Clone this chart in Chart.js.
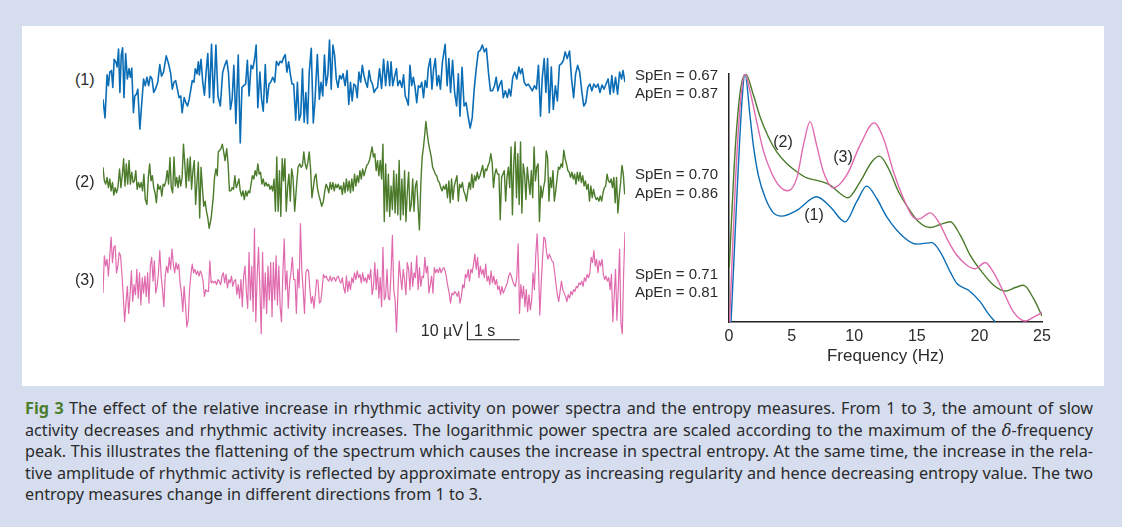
<!DOCTYPE html>
<html>
<head>
<meta charset="utf-8">
<script src="https://cdn.jsdelivr.net/npm/chart.js@4.4.1/dist/chart.umd.min.js"></script>
<style>
  html, body { margin: 0; padding: 0; }
  body { width: 1122px; height: 527px; background: #d5ddef; position: relative; overflow: hidden;
         font-family: "Liberation Sans", Arial, sans-serif; color: #2b2b2b; }
  #panel { position: absolute; left: 22px; top: 26px; width: 1082px; height: 360px; background: #fff; }
  canvas { position: absolute; }
  .lbl { position: absolute; font-size: 16px; line-height: 1; white-space: nowrap; transform: translateY(-50%); }
  .en { font-size: 15px; }
  .caption { position: absolute; left: 25px; top: 398px; width: 1068px; font-family: "Noto Sans", "Open Sans", sans-serif;
             font-size: 16.2px; line-height: 21.5px; color: #2b2b2b; }
  .caption div { white-space: nowrap; text-align: justify; text-align-last: justify; }
  .caption div.last { text-align: left; text-align-last: left; }
  .fig { color: #4b7d2c; font-weight: bold; margin-right: 5px; }
  .delta { font-family: "DejaVu Serif", serif; font-style: italic; }
</style>
</head>
<body>
<div id="panel"></div>

<canvas id="eeg1"></canvas>
<canvas id="eeg2"></canvas>
<canvas id="eeg3"></canvas>
<canvas id="spectra" width="380" height="310" style="left:700px;top:60px;width:380px;height:310px"></canvas>

<div class="lbl" style="left:75px;top:80px">(1)</div>
<div class="lbl" style="left:75px;top:182px">(2)</div>
<div class="lbl" style="left:75px;top:280px">(3)</div>

<div class="lbl en" style="left:635px;top:74px">SpEn = 0.67</div>
<div class="lbl en" style="left:635px;top:92px">ApEn = 0.87</div>
<div class="lbl en" style="left:635px;top:173px">SpEn = 0.70</div>
<div class="lbl en" style="left:635px;top:192px">ApEn = 0.86</div>
<div class="lbl en" style="left:635px;top:273px">SpEn = 0.71</div>
<div class="lbl en" style="left:635px;top:291px">ApEn = 0.81</div>

<div class="lbl" style="left:463px;top:331px;transform:translate(-100%,-50%)">10 µV</div>
<div class="lbl" style="left:474px;top:331px">1 s</div>

<div class="lbl" style="left:783px;top:142px;transform:translate(-50%,-50%)">(2)</div>
<div class="lbl" style="left:843px;top:157px;transform:translate(-50%,-50%)">(3)</div>
<div class="lbl" style="left:814px;top:215px;transform:translate(-50%,-50%)">(1)</div>

<div class="caption">
  <div><span class="fig">Fig 3</span>The effect of the relative increase in rhythmic activity on power spectra and the entropy measures. From 1 to 3, the amount of slow</div>
  <div>activity decreases and rhythmic activity increases. The logarithmic power spectra are scaled according to the maximum of the <span class="delta">δ</span>-frequency</div>
  <div>peak. This illustrates the flattening of the spectrum which causes the increase in spectral entropy. At the same time, the increase in the rela-</div>
  <div>tive amplitude of rhythmic activity is reflected by approximate entropy as increasing regularity and hence decreasing entropy value. The two</div>
  <div class="last">entropy measures change in different directions from 1 to 3.</div>
</div>

<script>
// EEG epochs: [sample index, amplitude in µV], 154 samples per second, 10 s each
const FS = 154;
const EPOCH_SAMPLES = 1544;

const trace1 = [[0,-7.4],[6,-17.6],[12,5.9],[16,0],[20,7.4],[25,8.3],[29,-0.9],[33,14.4],[38,13.0],[42,10.2],[46,20.0],[50,-3.7],[54,16.7],[58,20.7],[62,-6.5],[67,17.6],[72,3.7],[77,9.3],[81,4.6],[85,9.6],[90,-14.8],[94,-5.6],[99,-4.6],[103,-1.9],[109,-23.7],[114,-11.1],[120,3.7],[125,0],[130,4.6],[135,0],[140,5.2],[145,3.7],[150,-3.7],[155,-1.9],[162,1.9],[168,11.5],[173,5.2],[179,7.4],[187,16.3],[194,12.0],[200,7.0],[205,-1.9],[210,1.9],[215,2.8],[220,-1.9],[225,-6.5],[230,-5.6],[234,-14.8],[240,-6.5],[245,-9.3],[250,-11.1],[255,-7.4],[260,-1.9],[264,2.8],[269,1.9],[273,9.3],[278,6.5],[282,13.0],[285,5.9],[290,14.4],[295,1.9],[300,-5.2],[305,7.4],[310,17.6],[315,-6.5],[321,22.6],[327,-9.3],[334,22.2],[340,-5.6],[347,-11.1],[354,7.4],[360,11.1],[366,13.9],[371,7.4],[377,-13.0],[382,-7.4],[387,11.1],[393,-20.7],[400,16.7],[406,-31.3],[411,-0.9],[416,0],[422,0.9],[427,13.9],[432,-5.6],[438,11.1],[443,9.3],[448,13.9],[453,22.2],[458,-12.0],[464,7.4],[469,-7.4],[474,-13.9],[480,11.5],[485,-9.3],[491,0.9],[496,1.9],[502,4.6],[508,1.9],[513,13.3],[519,11.1],[524,13.3],[529,12.6],[534,15.2],[539,17.0],[544,7.4],[549,13.0],[554,6.5],[559,0.9],[564,0.9],[570,-18.9],[575,1.9],[580,-18.9],[585,-15.7],[590,9.3],[595,-20.0],[600,-3.7],[605,-20.7],[610,7.4],[616,20.4],[622,-20.4],[627,-8.3],[634,17.0],[640,-7.4],[645,1.9],[650,-5.6],[655,16.7],[660,0],[665,5.6],[670,25.0],[675,-1.9],[680,22.2],[685,16.7],[690,3.7],[695,-0.9],[700,5.6],[705,3.7],[710,6.5],[716,0],[722,8.3],[727,-10.2],[732,1.9],[737,-8.3],[742,0.9],[747,0],[752,-6.5],[757,7.4],[762,1.9],[767,11.1],[772,5.6],[777,1.9],[782,-0.9],[787,8.3],[792,2.8],[797,0.9],[802,-3.7],[807,-1.9],[812,-0.9],[818,9.3],[824,-1.5],[830,14.4],[836,0],[842,13.3],[848,0],[852,13.0],[857,0],[862,4.6],[868,9.3],[872,0],[878,2.8],[884,-0.9],[889,5.9],[894,-5.6],[898,-7.4],[903,-10.6],[908,11.1],[913,0],[918,4.6],[923,-0.9],[928,-9.3],[933,0],[938,-0.9],[943,1.9],[948,-6.5],[953,2.8],[958,-0.9],[962,9.3],[968,14.8],[973,-1.9],[978,9.3],[983,14.8],[988,0],[993,5.6],[998,-1.9],[1004,13.0],[1012,22.6],[1018,0],[1023,14.8],[1028,-3.7],[1034,13.9],[1040,-3.7],[1046,-11.1],[1051,6.5],[1056,-16.7],[1062,10.0],[1068,-11.1],[1074,-9.3],[1080,-16.7],[1086,-23.1],[1092,-17.6],[1098,-1.9],[1104,9.3],[1110,18.5],[1116,19.4],[1122,22.2],[1128,18.5],[1134,20.4],[1140,7.4],[1146,-2.8],[1152,-2.8],[1158,0],[1163,4.6],[1168,-2.8],[1174,0.9],[1179,2.8],[1184,-6.5],[1190,-2.8],[1196,-6.5],[1201,-1.9],[1206,-5.6],[1212,4.6],[1218,7.4],[1224,3.7],[1230,10.2],[1235,6.5],[1240,9.3],[1246,1.9],[1252,0],[1258,0.9],[1264,-0.9],[1270,-2.8],[1276,0],[1282,-1.9],[1288,11.1],[1294,-16.7],[1299,3.7],[1305,14.8],[1310,-3.7],[1315,14.8],[1320,-14.8],[1326,10.2],[1332,-13.0],[1338,0],[1344,-8.3],[1350,11.1],[1356,12.0],[1362,13.9],[1367,18.5],[1373,14.8],[1380,18.9],[1386,3.7],[1392,-6.5],[1398,6.5],[1404,11.1],[1410,7.4],[1416,-2.8],[1422,-11.1],[1428,-9.3],[1434,-0.9],[1440,0.9],[1446,-2.8],[1452,0.9],[1458,-0.9],[1464,0.9],[1470,-3.7],[1476,0.4],[1482,-1.9],[1488,0.9],[1494,3.7],[1500,-4.6],[1505,5.6],[1510,-3.7],[1516,4.6],[1522,-4.6],[1528,7.4],[1534,3.7],[1538,8.3],[1544,1.9]];

const trace2 = [[0,8.3],[4,0.9],[8,-0.9],[12,2.8],[16,-2.8],[20,1.9],[24,-4.6],[28,0],[32,-6.9],[36,-2.8],[40,-5.6],[44,-2.8],[49,7.4],[53,-2.8],[57,3.7],[61,13.0],[65,-1.9],[69,10.2],[73,-0.9],[77,12.0],[81,-0.9],[85,5.6],[89,0],[93,0.9],[97,6.5],[101,-3.7],[105,0],[109,-2.8],[113,0],[117,-4.6],[121,4.6],[125,-9.3],[130,-12.0],[134,2.8],[138,10.2],[142,0.9],[146,3.7],[150,-2.8],[154,-5.6],[158,-11.1],[162,-0.9],[166,-3.7],[170,-1.9],[174,-7.4],[178,-0.9],[182,-1.9],[186,0.9],[190,6.5],[194,-0.9],[198,13.5],[202,-2.8],[206,-5.6],[210,13.9],[214,-1.9],[218,2.8],[222,-2.8],[226,3.7],[230,-1.9],[234,2.8],[238,20.9],[242,10.2],[246,-2.8],[250,13.0],[254,0.9],[258,13.9],[262,-3.7],[266,6.5],[270,12.0],[274,-12.0],[278,0],[282,11.1],[286,-19.4],[290,8.3],[294,-2.8],[298,-13.0],[302,-10.2],[306,-15.7],[310,-19.4],[314,-25.0],[320,-19.4],[326,-8.3],[330,2.8],[334,7.4],[338,3.7],[341,16.7],[345,17.6],[349,18.5],[353,20.9],[357,16.7],[361,12.0],[366,18.5],[370,10.2],[374,-4.6],[378,-4.6],[382,-2.8],[386,-3.7],[390,3.7],[394,-2.8],[398,-0.9],[402,1.9],[406,-4.6],[410,-7.4],[414,-4.6],[418,-9.3],[422,-4.6],[426,-7.4],[430,-4.6],[434,-5.6],[438,-0.9],[442,3.7],[446,1.9],[450,6.5],[454,3.7],[458,10.2],[462,4.6],[466,5.6],[470,-0.9],[474,1.9],[478,-1.9],[482,0],[486,-1.9],[490,-0.9],[494,-3.7],[498,-1.9],[502,-4.6],[506,1.9],[510,-15.7],[514,13.9],[518,-15.7],[522,6.5],[526,-18.5],[530,13.0],[534,0.9],[538,13.0],[542,-15.7],[546,-2.8],[550,4.6],[554,-10.2],[558,7.4],[562,2.8],[567,-15.7],[572,-2.8],[577,8.3],[582,10.2],[586,8.3],[590,9.3],[594,16.7],[598,10.2],[602,7.4],[606,11.1],[610,16.7],[614,7.4],[618,-8.3],[622,-2.8],[626,2.8],[630,4.6],[634,-2.8],[638,-6.5],[642,-9.3],[647,-13.0],[652,-10.2],[656,-4.6],[660,-0.9],[664,-2.8],[668,-5.6],[672,0],[676,-3.7],[680,0],[684,-4.6],[688,-0.9],[692,-2.8],[696,-0.9],[700,-3.7],[704,-1.9],[708,-6.5],[712,0],[716,-5.6],[720,1.9],[724,-4.6],[728,0.9],[732,-5.6],[736,1.9],[740,-4.6],[744,4.6],[748,-1.9],[752,3.7],[756,0],[760,6.5],[764,1.9],[768,7.4],[772,3.7],[776,6.5],[780,9.3],[784,10.2],[788,12.0],[792,15.7],[796,19.4],[800,13.9],[804,15.7],[808,6.5],[812,12.0],[816,3.7],[820,12.0],[824,1.9],[828,20.9],[832,-21.3],[836,10.2],[840,-15.7],[844,4.6],[848,-18.5],[852,-1.9],[856,-14.8],[860,6.5],[864,-16.7],[868,4.6],[872,-17.6],[876,12.0],[880,-20.4],[884,1.9],[888,-17.6],[892,6.5],[896,-21.3],[900,-5.6],[904,5.6],[908,-15.7],[912,-12.0],[916,1.9],[920,-15.7],[924,-1.9],[928,0.9],[932,-13.0],[936,-25.9],[940,-0.9],[944,13.9],[948,19.4],[952,26.9],[955,33.3],[959,26.9],[963,21.3],[967,17.6],[971,13.9],[975,8.3],[979,6.5],[983,4.6],[987,3.7],[991,0.9],[995,0],[999,-2.8],[1003,-4.6],[1007,-1.9],[1011,-3.7],[1015,-0.9],[1019,-8.3],[1023,0.9],[1027,-11.1],[1031,1.9],[1035,-9.3],[1039,-1.9],[1043,0.9],[1047,3.7],[1051,-10.2],[1055,-0.9],[1059,-2.8],[1063,0],[1067,-4.6],[1071,-6.5],[1075,-10.2],[1079,-4.6],[1083,0],[1087,-3.7],[1091,4.6],[1095,-2.8],[1099,3.7],[1103,0.9],[1107,5.6],[1111,1.9],[1115,3.7],[1119,6.5],[1123,9.3],[1127,2.8],[1131,7.4],[1135,6.5],[1139,9.3],[1143,11.1],[1147,15.7],[1151,11.1],[1155,-2.8],[1159,4.6],[1163,7.4],[1167,4.6],[1171,4.6],[1175,-20.4],[1179,2.8],[1183,4.6],[1187,6.5],[1191,-10.2],[1195,2.8],[1199,8.3],[1203,-2.8],[1207,19.4],[1211,-17.6],[1215,10.2],[1219,22.2],[1223,-8.3],[1227,15.7],[1231,-12.0],[1235,22.2],[1239,-16.7],[1243,10.2],[1247,4.6],[1251,-9.3],[1255,8.3],[1259,0.9],[1263,-6.5],[1267,6.5],[1271,-8.3],[1275,19.4],[1279,0.9],[1283,8.3],[1287,10.2],[1291,-21.3],[1295,-1.9],[1299,-8.3],[1303,-2.8],[1307,0.9],[1311,17.2],[1315,13.9],[1319,-10.2],[1323,2.8],[1327,-2.8],[1331,6.5],[1335,-10.2],[1339,-4.6],[1343,1.9],[1347,8.3],[1351,7.4],[1355,10.2],[1359,8.3],[1363,17.6],[1367,13.0],[1371,10.2],[1375,6.5],[1379,5.6],[1383,2.8],[1387,5.6],[1391,1.9],[1395,4.6],[1399,-0.9],[1403,5.6],[1407,0.9],[1411,5.6],[1415,0],[1419,3.7],[1423,-1.9],[1427,0.9],[1431,-3.7],[1435,-0.9],[1439,-10.2],[1443,-1.9],[1447,-8.3],[1451,-3.7],[1455,-7.4],[1459,-9.3],[1463,-8.3],[1467,-10.2],[1471,-7.4],[1475,-10.2],[1479,-5.6],[1483,-2.8],[1487,-1.9],[1491,4.6],[1495,0.9],[1499,0],[1503,1.9],[1507,-2.8],[1511,2.8],[1515,-11.1],[1519,2.8],[1523,-16.7],[1527,-7.4],[1531,0],[1535,9.3],[1539,4.6],[1543,-6.5]];

const trace3 = [[0,-6.5],[4,13.9],[8,8.3],[12,12.0],[16,2.8],[20,13.9],[24,24.1],[28,10.2],[32,18.5],[36,19.4],[40,4.6],[44,8.3],[48,15.7],[52,13.9],[56,3.7],[60,-8.3],[64,-22.2],[68,-12.0],[72,-2.8],[76,-17.6],[80,-7.4],[84,5.6],[88,-11.1],[92,-1.9],[96,-7.4],[100,6.5],[104,-9.3],[108,4.6],[112,-13.0],[116,1.9],[120,-6.5],[124,2.8],[128,-8.3],[132,4.6],[136,-12.0],[140,8.3],[144,13.0],[148,0],[152,11.1],[156,-6.5],[160,-2.8],[164,4.6],[168,16.7],[172,2.8],[176,-4.6],[180,-13.9],[184,2.8],[188,8.3],[192,4.6],[196,13.0],[200,6.5],[204,17.6],[208,9.3],[212,4.6],[216,10.2],[220,6.5],[224,9.3],[228,-0.9],[232,-6.5],[236,-16.7],[240,-2.8],[244,-13.0],[248,-25.0],[252,-21.3],[256,-4.6],[260,3.7],[264,9.3],[268,4.6],[272,6.5],[276,3.7],[280,5.6],[284,2.8],[288,5.6],[292,3.7],[296,0],[300,-8.3],[304,-4.6],[308,-5.6],[312,-5.6],[316,11.1],[320,-0.9],[324,0],[328,-0.9],[332,0],[336,-1.9],[340,0.9],[344,0],[348,-1.9],[352,2.8],[356,4.6],[360,-0.9],[364,3.7],[368,-3.7],[372,0.9],[376,-0.9],[380,2.8],[384,-2.8],[388,0],[392,0.9],[396,-7.4],[400,-1.9],[404,-9.3],[408,0.9],[412,-13.9],[416,2.8],[420,8.3],[424,-5.6],[428,-14.8],[432,15.7],[436,-10.2],[440,8.3],[444,-16.7],[448,28.7],[452,-22.2],[456,2.8],[460,18.5],[464,-4.6],[468,-28.7],[472,15.7],[476,-14.8],[480,4.6],[484,-17.6],[488,8.3],[492,-10.2],[496,10.2],[500,-19.4],[504,10.2],[508,-10.2],[512,13.9],[516,-13.0],[520,8.3],[524,-13.9],[528,-22.2],[532,4.6],[536,23.1],[540,-4.6],[544,5.6],[548,-14.8],[552,-0.9],[556,4.6],[560,13.0],[564,0.9],[568,0.9],[572,-17.6],[576,6.5],[580,-3.7],[584,31.5],[588,6.5],[592,-4.6],[596,-17.6],[600,4.6],[604,6.5],[608,5.6],[612,-4.6],[616,-12.0],[620,-8.3],[624,-14.8],[628,-7.4],[632,0.9],[636,0],[640,-12.0],[644,-11.1],[648,-4.6],[652,3.7],[656,1.9],[660,2.8],[664,0.9],[668,0],[672,2.8],[676,0],[680,1.9],[684,1.9],[688,0],[692,1.9],[696,2.8],[700,0],[704,-0.9],[708,1.9],[712,-3.7],[716,-6.5],[720,2.8],[724,-5.6],[728,0],[732,-4.6],[736,1.9],[740,-0.9],[744,4.6],[748,0.9],[752,5.6],[756,1.9],[760,3.7],[764,-0.9],[768,4.6],[772,0],[776,1.9],[780,-0.9],[784,3.7],[788,0.9],[792,6.5],[796,-7.4],[800,-2.8],[804,10.2],[808,-4.6],[812,6.5],[816,-9.3],[820,1.9],[824,-13.9],[828,18.5],[832,-10.2],[836,-8.3],[840,6.5],[844,-9.3],[848,-10.2],[852,4.6],[856,25.0],[860,-4.6],[864,-10.2],[868,-27.8],[872,-8.3],[876,11.1],[880,2.8],[884,-4.6],[888,6.5],[892,0.9],[896,-7.4],[900,10.2],[904,6.5],[908,-4.6],[912,10.2],[916,-2.8],[920,4.6],[924,1.9],[928,13.9],[932,-4.6],[936,7.4],[940,-2.8],[944,2.8],[948,1.9],[952,13.0],[956,4.6],[960,8.3],[964,-6.5],[968,-1.9],[972,2.8],[976,-6.5],[980,7.4],[984,4.6],[988,6.5],[992,4.6],[996,7.4],[1000,4.6],[1004,6.5],[1008,7.4],[1012,5.6],[1016,1.9],[1020,-2.8],[1024,-6.5],[1028,-12.0],[1032,-6.5],[1036,-7.4],[1040,-5.6],[1044,-6.5],[1048,-8.3],[1052,-5.6],[1056,-12.0],[1060,-8.3],[1064,-1.9],[1068,-3.7],[1072,3.7],[1076,1.9],[1080,6.5],[1084,0],[1088,6.5],[1092,4.6],[1096,9.3],[1100,14.8],[1104,6.5],[1108,13.0],[1112,1.9],[1116,8.3],[1120,3.7],[1124,6.5],[1128,1.9],[1132,9.3],[1136,0],[1140,2.8],[1144,-1.9],[1148,5.6],[1152,-0.9],[1156,2.8],[1160,-1.9],[1164,0.9],[1168,-4.6],[1172,-2.8],[1176,-7.4],[1180,-2.8],[1184,-6.5],[1188,-4.6],[1192,-2.8],[1196,-0.9],[1200,2.8],[1204,4.6],[1208,2.8],[1212,0],[1216,-1.9],[1220,-2.8],[1224,2.8],[1228,20.4],[1232,-17.6],[1236,-1.9],[1240,-9.3],[1244,-2.8],[1248,-13.9],[1252,-4.6],[1256,-16.7],[1260,-7.4],[1264,-15.7],[1268,-10.2],[1272,4.6],[1276,-4.6],[1280,13.9],[1284,25.9],[1288,8.3],[1292,-18.5],[1296,-1.9],[1300,12.0],[1304,24.1],[1308,23.1],[1312,15.7],[1316,12.0],[1320,14.8],[1324,13.0],[1328,11.1],[1332,10.2],[1336,4.6],[1340,-1.9],[1344,-7.4],[1348,-11.1],[1352,-5.6],[1356,0],[1360,-4.6],[1364,-6.5],[1368,-8.3],[1372,-11.1],[1376,-7.4],[1380,-9.3],[1384,-5.6],[1388,-7.4],[1392,-4.6],[1396,-5.6],[1400,-2.8],[1404,-3.7],[1408,-0.9],[1412,-1.9],[1416,0],[1420,-2.8],[1424,1.9],[1428,0],[1432,3.7],[1436,1.9],[1440,4.6],[1444,13.0],[1448,10.2],[1452,16.7],[1456,8.3],[1460,12.0],[1464,4.6],[1468,11.1],[1472,8.3],[1476,12.0],[1480,3.7],[1484,0.9],[1488,2.8],[1492,0],[1496,1.9],[1500,-4.6],[1504,3.7],[1508,-22.2],[1512,-8.3],[1516,6.5],[1520,-21.3],[1524,-4.6],[1528,17.6],[1532,-23.1],[1536,-28.7],[1540,4.6],[1544,26.9]];

// Log power spectra, scaled to the delta peak: [frequency Hz, relative log power]
const spectrum1 = [[0.16,0],[1.05,0.9],[1.28,1.0],[1.68,0.83],[1.95,0.71],[2.35,0.59],[2.9,0.5],[3.55,0.44],[4.2,0.427],[5.4,0.45],[7.0,0.505],[8.1,0.464],[9.27,0.404],[10.2,0.485],[11.0,0.548],[11.8,0.498],[12.6,0.424],[13.94,0.343],[15.0,0.314],[16.2,0.32],[16.87,0.283],[17.67,0.202],[18.2,0.155],[19.14,0.128],[20.07,0.081],[20.7,0.034],[21.27,0]];
const spectrum2 = [[0.02,0.22],[0.5,0.7],[0.9,0.93],[1.33,1.0],[1.95,0.915],[2.48,0.828],[3.14,0.747],[3.81,0.686],[4.61,0.639],[5.41,0.606],[6.21,0.581],[7.28,0.568],[8.08,0.552],[8.88,0.518],[9.49,0.501],[10.47,0.565],[11.41,0.646],[12.02,0.669],[12.74,0.619],[13.54,0.525],[14.34,0.458],[15.14,0.404],[16.07,0.381],[16.87,0.393],[17.67,0.404],[18.47,0.35],[19.27,0.269],[20.2,0.202],[21.14,0.148],[22.07,0.125],[22.87,0.139],[23.53,0.148],[24.33,0.094],[25,0.024]];
const spectrum3 = [[0.05,0],[0.5,0.55],[0.9,0.88],[1.28,1.0],[1.68,0.93],[2.2,0.81],[2.75,0.69],[3.41,0.6],[4.08,0.545],[4.69,0.529],[5.41,0.579],[5.94,0.713],[6.48,0.808],[7.0,0.713],[7.54,0.606],[8.34,0.541],[9.4,0.592],[10.47,0.713],[11.59,0.803],[12.34,0.74],[13.14,0.606],[13.94,0.498],[14.74,0.421],[15.14,0.415],[16.07,0.44],[16.74,0.404],[17.54,0.323],[18.2,0.269],[19.0,0.229],[19.67,0.215],[20.47,0.24],[21.1,0.202],[21.93,0.121],[22.73,0.04],[23.67,0.004],[24.33,0.02],[25,0.038]];

const freqTicks = [0, 5, 10, 15, 20, 25];

const BLUE = '#0b6db6', GREEN = '#4b7b2b', PINK = '#e06aae';

Chart.defaults.font.family = '"Liberation Sans", Arial, sans-serif';
Chart.defaults.color = '#2b2b2b';
Chart.defaults.animation = false;
Chart.defaults.devicePixelRatio = 1;

// Layout of the trace strip
const TRACE_LEFT = 103, TRACE_WIDTH = 522;
const PX_PER_UV = 1.83;
const SCALE_BAR_T0 = 7.0;     // s
const SCALE_BAR_BASE = -32;   // µV, relative to trace 3 baseline

const scaleBar = {
  id: 'scaleBar',
  afterDraw(chart) {
    const { ctx, scales: { x, y } } = chart;
    const x0 = x.getPixelForValue(SCALE_BAR_T0 * FS);
    const x1 = x.getPixelForValue((SCALE_BAR_T0 + 1) * FS);
    const yb = y.getPixelForValue(SCALE_BAR_BASE);
    const yt = y.getPixelForValue(SCALE_BAR_BASE + 10);
    ctx.save();
    ctx.strokeStyle = '#222';
    ctx.lineWidth = 1.2;
    ctx.beginPath();
    ctx.moveTo(x0, yt); ctx.lineTo(x0, yb); ctx.lineTo(x1, yb);
    ctx.stroke();
    ctx.restore();
  }
};

function traceChart(id, series, color, width, zeroY, top, height, plugins) {
  const cv = document.getElementById(id);
  cv.width = TRACE_WIDTH; cv.height = height;
  Object.assign(cv.style, { left: TRACE_LEFT + 'px', top: top + 'px', width: TRACE_WIDTH + 'px', height: height + 'px' });
  return new Chart(cv, {
    type: 'line',
    data: { datasets: [{ data: series, borderColor: color, borderWidth: width, pointRadius: 0, tension: 0,
                         borderJoinStyle: 'round', clip: false }] },
    options: {
      responsive: false, events: [],
      layout: { padding: 0 },
      plugins: { legend: { display: false }, tooltip: { enabled: false } },
      scales: {
        x: { type: 'linear', display: false, min: 0, max: EPOCH_SAMPLES },
        y: { display: false, min: -(top + height - zeroY) / PX_PER_UV, max: (zeroY - top) / PX_PER_UV }
      }
    },
    plugins: plugins || []
  });
}

traceChart('eeg1', trace1, BLUE, 1.6, 85.7, 32, 112);
traceChart('eeg2', trace2, GREEN, 1.4, 182.5, 118, 122);
traceChart('eeg3', trace3, PINK, 1.2, 281.2, 220, 128, [scaleBar]);

const lineDs = (data, color) => ({ data, borderColor: color, borderWidth: 1.4, pointRadius: 0,
                                   cubicInterpolationMode: 'monotone', fill: false });

new Chart(document.getElementById('spectra'), {
  type: 'line',
  data: { datasets: [lineDs(spectrum3, PINK), lineDs(spectrum2, GREEN), lineDs(spectrum1, BLUE)] },
  options: {
    responsive: false, events: [],
    layout: { padding: { top: 14, right: 38, left: 0, bottom: 0 } },
    plugins: { legend: { display: false }, tooltip: { enabled: false } },
    scales: {
      x: {
        type: 'linear', min: 0, max: 25,
        afterBuildTicks(s) { s.ticks = freqTicks.map(v => ({ value: v })); },
        ticks: { font: { size: 16 }, color: '#2b2b2b', padding: 5, maxRotation: 0, autoSkip: false },
        grid: { display: false, drawTicks: false },
        border: { display: true, color: '#222', width: 1.5 },
        title: { display: true, text: 'Frequency (Hz)', font: { size: 17 }, color: '#2b2b2b', padding: { top: 2, bottom: 3 } },
        afterFit(s) { s.height = 48; }
      },
      y: {
        min: 0, max: 1,
        ticks: { display: false },
        grid: { display: false, drawTicks: false },
        border: { display: true, color: '#222', width: 1.5 },
        afterFit(s) { s.width = 29; }
      }
    }
  }
});
</script>
</body>
</html>
